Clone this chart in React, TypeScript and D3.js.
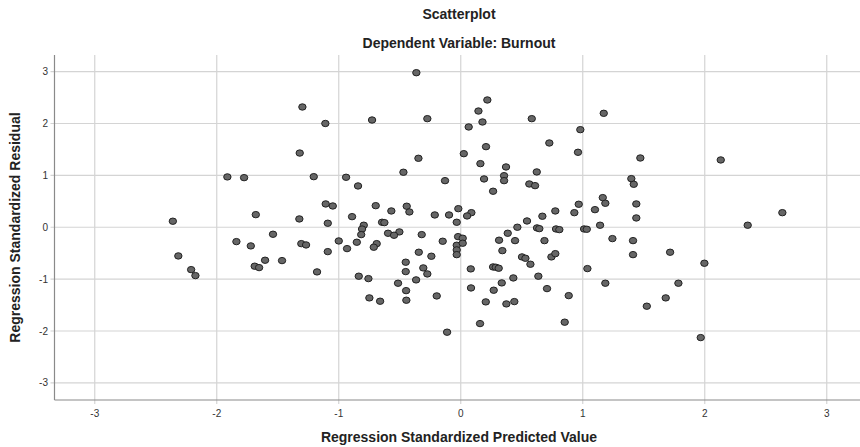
import React from 'react';
import * as d3 from 'd3';

// regression standardized predicted value (x) / standardized residual (y)
const predicted = [
  -1.298, -1.11, -1.32, -1.913, -1.776, -1.205, -0.94, -0.842, -1.107, -1.049,
  -1.68, -1.323, -1.09, -0.891, -2.36, -1.539, -1.839, -1.721, -1.307, -1.268,
  -1.0, -0.852, -0.932, -1.09, -2.315, -1.604, -1.465, -1.689, -1.653, -2.21,
  -2.175, -1.178, -0.836, -0.364, -0.727, -0.274, 0.218, 0.145, 0.178, 0.065,
  0.207, 0.025, -0.347, 0.161, 0.371, -0.47, -0.129, 0.191, 0.355, 0.355,
  0.265, -0.697, -0.443, -0.569, -0.421, -0.213, -0.096, -0.02, 0.087, 0.052,
  -0.033, -0.795, -0.645, -0.626, -0.809, -0.503, 0.464, -0.816, -0.689, -0.713,
  -0.596, -0.547, -0.32, -0.148, -0.033, -0.033, -0.033, -0.022, 0.016, 0.016,
  -0.344, -0.241, -0.451, -0.451, -0.307, -0.274, -0.366, -0.514, -0.757, -0.448,
  -0.749, -0.661, -0.446, -0.197, -0.112, 0.082, 0.084, 0.265, 0.287, 0.311,
  0.158, 0.205, 0.27, 0.336, 0.374, 0.439, 0.431, 0.314, 0.385, 0.445,
  0.341, 0.582, 1.172, 0.98, 0.726, 0.961, 1.472, 0.623, 0.562, 0.609,
  1.398, 1.418, 1.164, 1.185, 0.967, 1.1, 1.439, 0.775, 0.931, 0.669,
  1.439, 0.543, 0.625, 0.644, 0.781, 0.808, 1.011, 1.033, 1.142, 0.686,
  1.243, 1.412, 0.502, 0.53, 0.571, 0.743, 0.775, 1.038, 1.412, 1.716,
  0.636, 0.707, 0.885, 1.185, 0.852, 1.525, 1.68, 1.784, 2.131, 2.636,
  2.352, 1.997, 1.967,
];
const residual = [
  2.318, 2.0, 1.43, 0.97, 0.956, 0.975, 0.963, 0.796, 0.449, 0.41,
  0.243, 0.16, 0.077, 0.204, 0.116, -0.135, -0.277, -0.36, -0.316, -0.341,
  -0.264, -0.289, -0.412, -0.47, -0.553, -0.636, -0.643, -0.751, -0.778, -0.817,
  -0.932, -0.861, -0.944, 2.979, 2.067, 2.093, 2.453, 2.24, 2.029, 1.933,
  1.553, 1.418, 1.329, 1.226, 1.162, 1.06, 0.898, 0.931, 0.994, 0.898,
  0.694, 0.416, 0.405, 0.314, 0.295, 0.237, 0.237, 0.358, 0.281, 0.218,
  0.096, 0.039, 0.096, 0.089, -0.035, -0.09, 0.0, -0.142, -0.316, -0.385,
  -0.116, -0.154, -0.142, -0.27, -0.347, -0.437, -0.528, -0.181, -0.212, -0.308,
  -0.482, -0.559, -0.674, -0.855, -0.784, -0.9, -1.015, -1.079, -0.99, -1.222,
  -1.362, -1.426, -1.407, -1.324, -2.023, -0.803, -1.17, -0.765, -0.771, -0.79,
  -1.857, -1.439, -1.214, -1.073, -1.478, -1.433, -0.977, -0.25, -0.116, -0.258,
  -0.451, 2.093, 2.196, 1.881, 1.624, 1.445, 1.335, 1.066, 0.834, 0.802,
  0.937, 0.828, 0.571, 0.462, 0.443, 0.339, 0.449, 0.314, 0.281, 0.212,
  0.179, 0.121, -0.013, -0.027, -0.033, -0.046, -0.033, -0.039, 0.039, -0.258,
  -0.219, -0.258, -0.572, -0.598, -0.713, -0.572, -0.509, -0.797, -0.528, -0.482,
  -0.944, -1.183, -1.318, -1.079, -1.83, -1.522, -1.362, -1.079, 1.297, 0.281,
  0.039, -0.694, -2.127,
];
const ticks = [-3, -2, -1, 0, 1, 2, 3];

const W = 860;
const H = 447;
const left = 54.5;
const top = 55;
const bottom = 400;

export default function App() {
  const x = d3.scaleLinear().domain([-3.33, 3.33]).range([left, left + 6.66 * 122]);
  const y = d3.scaleLinear().domain([-3.33, 3.32]).range([bottom, top]);
  const right = x(3.33);
  const font = '"Liberation Sans", Arial, sans-serif';

  return (
    <div style={{ position: 'absolute', left: 0, top: 0 }}>
      <svg width={W} height={H} style={{ display: 'block', background: '#fff' }} fontFamily={font}>
        <text x={459} y={19} textAnchor="middle" fontSize={14} fontWeight="bold" fill="#222">Scatterplot</text>
        <text x={459} y={48} textAnchor="middle" fontSize={14} fontWeight="bold" fill="#222">Dependent Variable: Burnout</text>

        {/* grid */}
        {ticks.map(t => (
          <line key={'gx' + t} x1={x(t)} x2={x(t)} y1={top} y2={bottom + 4} stroke="#d4d4d4" strokeWidth={1.2} />
        ))}
        {ticks.map(t => (
          <line key={'gy' + t} x1={left - 4} x2={right} y1={y(t)} y2={y(t)} stroke="#d4d4d4" strokeWidth={1.2} />
        ))}

        {/* axes */}
        <line x1={left} x2={left} y1={top} y2={bottom} stroke="#8a8a8a" strokeWidth={1.2} />
        <line x1={left} x2={right} y1={bottom} y2={bottom} stroke="#8a8a8a" strokeWidth={1.2} />

        {ticks.map(t => (
          <text key={'tx' + t} x={x(t)} y={417} textAnchor="middle" fontSize={10} fill="#333">{t}</text>
        ))}
        {ticks.map(t => (
          <text key={'ty' + t} x={48} y={y(t) + 3.5} textAnchor="end" fontSize={10} fill="#333">{t}</text>
        ))}

        <text x={459} y={442} textAnchor="middle" fontSize={14} fontWeight="bold" fill="#222">
          Regression Standardized Predicted Value
        </text>
        <text
          transform={`translate(20, ${(top + bottom) / 2}) rotate(-90)`}
          textAnchor="middle"
          fontSize={14}
          fontWeight="bold"
          fill="#222"
        >
          Regression Standardized Residual
        </text>

        {predicted.map((p, i) => (
          <ellipse
            key={i}
            cx={x(p)}
            cy={y(residual[i])}
            rx={3.7}
            ry={3.2}
            fill="#666"
            stroke="#222"
            strokeWidth={1}
          />
        ))}
      </svg>
    </div>
  );
}
